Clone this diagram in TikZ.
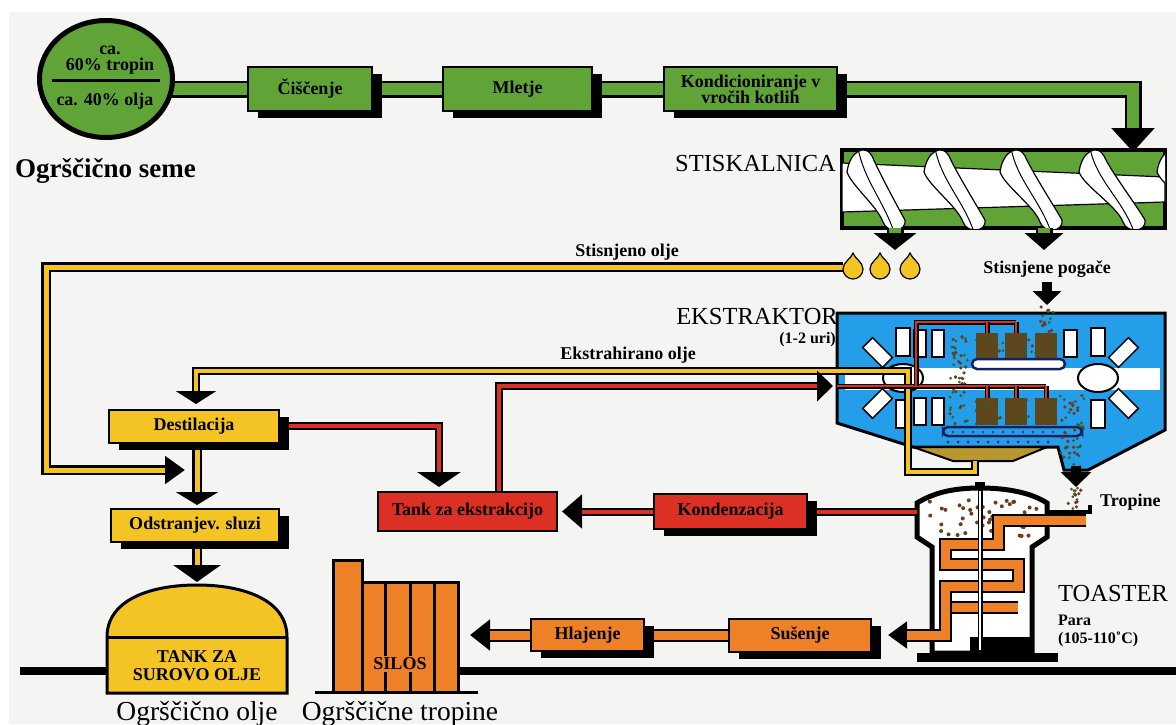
\documentclass[tikz,border=0pt]{standalone}
\usepackage{fontspec}
\setmainfont{Liberation Serif}
\usepackage{tikz}
\usetikzlibrary{arrows.meta,shapes.geometric,shadows}

\definecolor{pgreen}{RGB}{96,164,56}
\definecolor{pyellow}{RGB}{244,196,36}
\definecolor{pred}{RGB}{220,48,36}
\definecolor{porange}{RGB}{238,128,40}
\definecolor{pblue}{RGB}{36,158,232}
\definecolor{polive}{RGB}{184,150,48}
\definecolor{pbask}{RGB}{92,72,28}
\definecolor{pbrown}{RGB}{110,60,30}
\definecolor{pdkgreen}{RGB}{60,90,40}
\definecolor{pnavy}{RGB}{22,34,96}
\definecolor{paper}{RGB}{244,244,242}

\newcommand\labfont{\fontsize{18}{18}\selectfont\bfseries}
\newcommand\notefont{\fontsize{16}{18}\selectfont\bfseries}
\newcommand\capsfont{\fontsize{24.5}{25}\selectfont}
\newcommand\titlefont{\fontsize{27}{27}\selectfont\bfseries}
\newcommand\namefont{\fontsize{27.5}{28}\selectfont}

\pgfdeclarelayer{back}
\pgfdeclarelayer{pipes}
\pgfsetlayers{back,pipes,main}

\def\tubecut{0pt}
\tikzset{
  tube/.style n args={3}{draw=black, line width=#1,
    postaction={draw=#2, line width=#3, -, shorten >=\tubecut}},
  tubecut/.code={\def\tubecut{#1}},
  ahead/.style 2 args={-{Triangle[width=#1 0,length=#2 0]}, tubecut=#2},
  gp/.style={tube={17pt}{pgreen}{12pt}},
  yp/.style={tube={10pt}{pyellow}{5pt}},
  yq/.style={tube={8pt}{pyellow}{4pt}},
  rp/.style={tube={8pt}{pred}{4pt}},
  rq/.style={tube={5pt}{pred}{2.5pt}},
  op/.style={tube={13pt}{porange}{9pt}},
  box/.style={draw, line width=2pt, inner sep=0pt, outer sep=0pt, align=center, font=\labfont},
  sbox/.style={box, general shadow={fill=black, shadow xshift=10pt, shadow yshift=-7pt}},
  lab/.style={inner sep=0pt, font=\labfont, align=center},
}

\begin{document}
\begin{tikzpicture}[x=1pt,y=-1pt]
\useasboundingbox (0,0) rectangle (1176,724);

% arrow tips and pipe ends
\coordinate (t-press) at (1133,152);
\coordinate (t-out1) at (895,250);
\coordinate (t-out2) at (1044,250);
\coordinate (drop) at (843,267);
\coordinate (t-oil) at (185,470);
\coordinate (t-inlet) at (1047,305);
\coordinate (ext-out) at (1076,466);
\coordinate (t-outlet) at (1076,487);
\coordinate (hop) at (975,461);
\coordinate (t-destil) at (196,404);
\coordinate (t-slime) at (197,505);
\coordinate (t-tank) at (197,582);
\coordinate (t-tankext) at (439,487);
\coordinate (rx) at (499,386);
\coordinate (t-ext) at (833,386);
\coordinate (t-tankext2) at (562,511.5);
\coordinate (toast-r) at (917,511.5);
\coordinate (toast-in) at (1086,520);
\coordinate (t-dry) at (888,635);
\coordinate (t-silo) at (470,635);

% boxes
\node[draw, line width=5pt, fill=pgreen, ellipse, minimum width=133pt, minimum height=117pt, inner sep=0pt, outer sep=0pt] (seed) at (106,79) {};
\node[lab, anchor=base] (seedca) at (110,54) {ca.};
\node[lab, anchor=base] (seedtop) at (110,70) {60\% tropin};
\node[lab, anchor=base] (seedbot) at (105,105) {ca. 40\% olja};
\draw[line width=3pt] (52,80) -- (160,80);
\node[sbox, fill=pgreen, minimum width=124pt, minimum height=44pt] (clean) at (310,89) {Čiščenje};
\node[sbox, fill=pgreen, minimum width=149pt, minimum height=44pt] (mill) at (517.5,89) {Mletje};
\node[sbox, fill=pgreen, minimum width=173pt, minimum height=44pt] (cond) at (750.5,89) {Kondicioniranje v\\[-2pt]vročih kotlih};
\node[sbox, fill=pyellow, minimum width=170pt, minimum height=33pt] (destil) at (194,426) {Destilacija};
\node[sbox, fill=pyellow, minimum width=168pt, minimum height=33pt] (slime) at (195,525) {Odstranjev. sluzi};
\node[box, fill=pred, minimum width=179pt, minimum height=39pt] (tankext) at (467.5,511.5) {Tank za ekstrakcijo};
\node[sbox, fill=pred, minimum width=153pt, minimum height=35pt] (konden) at (730.5,511.5) {Kondenzacija};
\node[sbox, fill=porange, minimum width=142pt, minimum height=33pt] (dry) at (800,635) {Sušenje};
\node[sbox, fill=porange, minimum width=113pt, minimum height=32pt] (cool) at (587.5,635) {Hlajenje};

% labels
\node[inner sep=0pt, font=\titlefont, anchor=base west] (seme) at (15,177) {Ogrščično seme};
\node[inner sep=0pt, font=\capsfont, anchor=base east] (presslab) at (836,171) {STISKALNICA};
\node[lab, anchor=base] (oillab) at (627,256) {Stisnjeno olje};
\node[lab, anchor=base] (pogace) at (1047,273) {Stisnjene pogače};
\node[inner sep=0pt, font=\capsfont, anchor=base east] (extlab) at (838,324) {EKSTRAKTOR};
\node[inner sep=0pt, font=\notefont, anchor=base east] (extime) at (836,343) {(1-2 uri)};
\node[lab, anchor=base] (extoil) at (628,359) {Ekstrahirano olje};
\node[lab, anchor=base west] (tropine) at (1100,506) {Tropine};
\node[inner sep=0pt, font=\capsfont, anchor=base west] (toastlab) at (1058,601) {TOASTER};
\node[inner sep=0pt, font=\notefont, anchor=base west] (steam) at (1058,625) {Para};
\node[inner sep=0pt, font=\notefont, anchor=base west] (steamt) at (1058,643) {(105-110˚C)};
\node[inner sep=0pt, font=\namefont, anchor=base] (oilname) at (197,720) {Ogrščično olje};
\node[inner sep=0pt, font=\namefont, anchor=base] (cakename) at (400,720) {Ogrščične tropine};

\begin{pgfonlayer}{back}
  \fill[white] (0,0) rectangle (1176,724);
  \fill[paper] (9,12) rectangle (1176,724);
  \draw[line width=8pt] (20,671) -- (110,671) (458,671) -- (1176,671);
  % press
  \node[draw, line width=4pt, fill=pgreen, minimum width=323pt, minimum height=78pt, inner sep=0pt, outer sep=0pt] (press) at (1003.5,189) {};
  \begin{scope}
    \clip (842,150) rectangle (1165,228);
    \draw[line width=1.2pt, fill=white] (842,163) -- (1165,177) -- (1165,202) -- (842,212) -- cycle;
    \foreach \xt/\xb in {860/893,937/973,1013/1050,1092/1133,1170/1212}{
      \draw[line width=1.2pt, fill=white] ({\xt-13},172) .. controls ({\xt-10},150) and ({\xt+6},144) .. ({\xt+12},156)
        .. controls ({\xt+18},170) and ({\xb+4},206) .. ({\xb+12},220) .. controls ({\xb+14},232) and ({\xb-6},234) .. ({\xb-10},222)
        .. controls ({\xb-16},206) and ({\xt-8},186) .. cycle;
      \draw[line width=1pt] ({\xt-2},148) .. controls ({\xt+4},180) and ({\xb-10},200) .. ({\xb+1},232);
    }
  \end{scope}
  % extractor
  \draw[line width=3pt, fill=pblue] (837,313) -- (1165,313) -- (1165,430) -- (1088,470) -- (1064,470) -- (1058,447) -- (913,447) -- (837,423) -- cycle;
  \draw[line width=2pt, fill=polive] (913,447) -- (1047,447) -- (1013,461) -- (953,461) -- cycle;
  \fill[white] (845,368) rectangle (1160,390);
  \foreach \cx/\angs in {903/{90,135,225,270},1098/{45,90,270,315}}{
    \foreach \a in \angs
      \draw[line width=1.5pt, fill=white, rotate around={\a:(\cx,378)}] ({\cx+22},371) rectangle ({\cx+50},385);
    \draw[line width=2pt, fill=white] (\cx,378) ellipse [x radius=20, y radius=14];
  }
  \foreach \x in {914,932}{
    \draw[line width=1.5pt, fill=white] (\x,330) rectangle ({\x+12},357);
    \draw[line width=1.5pt, fill=white] (\x,398) rectangle ({\x+12},425);
  }
  \draw[line width=1.5pt, fill=white] (1064,330) rectangle (1077,357);
  \foreach \x in {987,1016,1046}{
    \fill[pbask] ({\x-11},333) rectangle ({\x+11},358);
    \fill[pbask] ({\x-11},398) rectangle ({\x+11},425);
  }
  \draw[pnavy, line width=2.5pt, fill=white, rounded corners=5pt] (972,359) rectangle (1065,369);
  \draw[pnavy, line width=2.5pt, rounded corners=5pt] (943,427) rectangle (1082,436);
  \foreach \x in {948,958,...,1048}
    \fill[pnavy] (\x,442) circle (1.5pt) ({\x+5},432) circle (1.2pt);
  \pgfmathsetseed{11}
  \foreach \xa/\xw/\ya/\yh/\n in {1040/14/305/28/16, 950/18/335/90/50, 1060/24/395/75/45, 1068/16/487/26/16, 976/80/335/22/30, 976/80/400/24/30}{
    \foreach \i in {1,...,\n}{
      \pgfmathsetmacro\px{\xa+\xw*rnd}
      \pgfmathsetmacro\py{\ya+\yh*rnd}
      \ifodd\i \fill[pbrown] (\px,\py) circle (1.8pt); \else \fill[pdkgreen] (\px,\py) circle (1.5pt); \fi
    }
  }
  % toaster
  \draw[line width=5pt, fill=white] (917,537) -- (917,503) .. controls (935,492) and (955,488) .. (980,488)
    .. controls (1005,488) and (1030,492) .. (1047,503) -- (1047,537) -- (1032,547) -- (1032,653)
    -- (932,653) -- (932,547) -- cycle;
  \fill (917,653) rectangle (1058,662);
  \fill (970,637) rectangle (1033,653);
  \foreach \i in {1,...,45}{
    \pgfmathsetmacro\px{926+112*rnd}
    \pgfmathsetmacro\py{500+36*rnd}
    \fill[pbrown] (\px,\py) circle (2pt);
  }
\end{pgfonlayer}

\begin{pgfonlayer}{pipes}
  \draw[gp] (seed.center |- clean.west) -- (clean.west);
  \draw[gp] (clean.east) -- (mill.west);
  \draw[gp] (mill.east) -- (cond.west);
  \draw[gp, ahead={42pt}{24pt}] (cond.east) -| (t-press);
  \draw[gp, ahead={42pt}{17pt}] (press.south -| t-out1) -- (t-out1);
  \draw[gp, ahead={38pt}{17pt}] (press.south -| t-out2) -- (t-out2);
  \draw[line width=10pt, ahead={28pt}{14pt}, shorten <=5pt] (pogace.south) -- (t-inlet);
  \draw[line width=10pt, ahead={30pt}{15pt}] (ext-out) -- (t-outlet);
  \draw[yp, ahead={27pt}{20pt}] (drop) -| (46,470) -- (t-oil);
  \draw[yq, ahead={40pt}{13pt}] (hop) |- (908,472) |- (196,371) -- (t-destil);
  \draw[yp, ahead={42pt}{13pt}] (destil.south -| t-slime) -- (t-slime);
  \draw[yp, ahead={47pt}{17pt}] (slime.south -| t-tank) -- (t-tank);
  \draw[rp, ahead={43pt}{15pt}] (destil.east) -| (t-tankext);
  \draw[rp, ahead={30pt}{16pt}] (tankext.north -| rx) -- (rx) -- (t-ext);
  \draw[rq] (837,386) -- (1046,386);
  \foreach \x in {987,1016,1046} \draw[rq] (\x,386) -- (\x,398);
  \draw[rq] (916,386) -- (916,322) -- (1016,322);
  \foreach \x in {987,1016} \draw[rq] (\x,322) -- (\x,333);
  \draw[rp, ahead={33pt}{20pt}] (konden.west) -- (t-tankext2);
  \draw[rp] (konden.east) -- (toast-r);
  \draw[op] (945,607) -- (1018,607);
  \draw[op, ahead={26pt}{19pt}] (toast-in) -- (998,520) -- (998,544) -- (945,544) -- (945,564)
    -- (1018,564) -- (1018,586) -- (945,586) -- (945,635) -- (t-dry);
  \draw[op] (dry.west) -- (cool.east);
  \draw[op, ahead={30pt}{20pt}] (cool.west) -- (t-silo);
\end{pgfonlayer}

% oil drops
\foreach \x in {853,880,910}
  \draw[line width=1.2pt, fill=pyellow] (\x,253) .. controls ({\x+2},259) and ({\x+10},262) .. ({\x+10},269)
    .. controls ({\x+10},275) and ({\x+5},279) .. (\x,279) .. controls ({\x-5},279) and ({\x-10},275) .. ({\x-10},269)
    .. controls ({\x-10},262) and ({\x-2},259) .. cycle;

% toaster shaft and inlet lip
\draw[line width=5pt] (980,486) -- (980,653);
\draw[white, line width=2pt] (980,491) -- (980,650);
\fill (975,482) rectangle (985,490);
\draw[line width=4pt] (1047,512) -- (1090,512) -- (1090,505);

% crude oil tank
\draw[line width=3pt, fill=pyellow] (107,637) .. controls (107,600) and (150,585) .. (197,585)
  .. controls (244,585) and (287,600) .. (287,637) -- (287,693) -- (107,693) -- cycle;
\draw[line width=3pt] (107,637) -- (287,637);
\node[lab] (tank) at (197,666) {TANK ZA\\SUROVO OLJE};

% silo
\draw[line width=3pt, fill=porange] (333,692) -- (333,560) -- (362,560) -- (362,582) -- (458,582) -- (458,692) -- cycle;
\foreach \x in {362,385,410,434} \draw[line width=3pt] (\x,582) -- (\x,692);
\draw[line width=3pt] (315,692) -- (478,692);
\node[lab, fill=porange, inner sep=2pt] (silo) at (400,664) {SILOS};
\end{tikzpicture}
\end{document}
